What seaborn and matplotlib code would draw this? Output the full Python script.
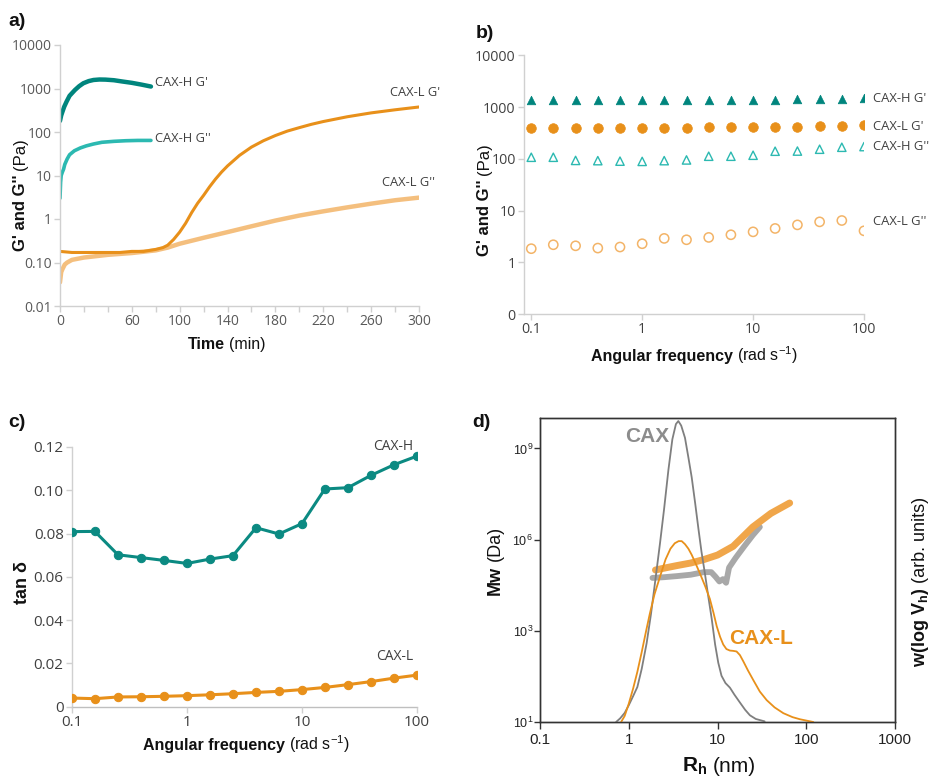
import numpy as np
import pandas as pd
import matplotlib
matplotlib.use("Agg")
import matplotlib.pyplot as plt
import seaborn as sns
from matplotlib.ticker import FixedLocator, FixedFormatter, NullLocator

# ---------------- data ----------------
# panel a: time sweep
a_hG1_t = [0, 1, 2, 3.5, 5.5, 8, 12.5, 16, 19.5, 24, 28, 33, 38, 45, 52, 60, 68, 76]
a_hG1 = [180, 240, 290, 380, 500, 680, 925, 1130, 1320, 1480, 1570, 1610, 1600, 1550, 1450, 1350, 1230, 1110]
a_hG2_t = [0, 0.5, 1, 2, 3, 4, 6, 8, 12, 17, 22, 28, 35, 45, 55, 65, 76]
a_hG2 = [3, 7, 10, 12, 14, 18, 24, 30, 37, 43, 48, 53, 58, 61, 63, 64, 64]
a_lG1_t = [0, 10, 20, 30, 40, 50, 60, 70, 80, 86, 90, 95, 100, 105, 110, 115, 120, 125, 130, 135, 140, 150,
           160, 170, 180, 190, 200, 210, 220, 240, 260, 280, 300]
a_lG1 = [0.18, 0.17, 0.17, 0.17, 0.17, 0.17, 0.18, 0.18, 0.2, 0.22, 0.25, 0.34, 0.5, 0.8, 1.4, 2.3, 3.5, 5.5,
         8.3, 12, 16.6, 29, 45, 63, 83, 105, 126, 150, 174, 224, 275, 324, 376]
a_lG2_t = [0, 1, 2, 4, 6, 10, 20, 40, 60, 80, 90, 100, 120, 140, 160, 180, 200, 220, 240, 260, 280, 300]
a_lG2 = [0.035, 0.06, 0.07, 0.09, 0.1, 0.115, 0.13, 0.15, 0.165, 0.19, 0.22, 0.27, 0.37, 0.5, 0.68, 0.92, 1.2, 1.5, 1.85, 2.25, 2.7, 3.1]
a_xticks = [0, 20, 40, 60, 80, 100, 120, 140, 160, 180, 200, 220, 240, 260, 280, 300]
a_xticklabels = ["0", "", "", "60", "", "100", "", "140", "", "180", "", "220", "", "260", "", "300"]
a_yticks = [0.01, 0.1, 1, 10, 100, 1000, 10000]
a_yticklabels = ["0.01", "0.10", "1", "10", "100", "1000", "10000"]

# panel b: frequency sweep
freq = [0.1, 0.158, 0.251, 0.398, 0.631, 1, 1.58, 2.51, 3.98, 6.31, 10, 15.8, 25.1, 39.8, 63.1, 100]
b_hG1 = [1340, 1340, 1340, 1340, 1340, 1350, 1350, 1360, 1360, 1370, 1380, 1390, 1400, 1430, 1460, 1500]
b_lG1 = [390, 390, 390, 395, 395, 400, 400, 400, 405, 405, 410, 410, 415, 425, 430, 440]
b_hG2 = [107, 107, 93, 92, 90, 89, 92, 95, 112, 112, 117, 140, 141, 153, 167, 172]
b_lG2 = [1.83, 2.18, 2.08, 1.88, 1.97, 2.28, 2.89, 2.72, 3.02, 3.40, 3.87, 4.50, 5.28, 6.04, 6.41, 4.05]
b_yticks = [0.1, 1, 10, 100, 1000, 10000]
b_yticklabels = ["0", "1", "10", "100", "1000", "10000"]
freq_ticks = [0.1, 1, 10, 100]
freq_ticklabels = ["0.1", "1", "10", "100"]

# panel c: tan delta
c_H = [0.0809, 0.0810, 0.0702, 0.0689, 0.0676, 0.0662, 0.0682, 0.0698, 0.0827, 0.0798, 0.0846, 0.1006, 0.1012, 0.1069, 0.1118, 0.1158]
c_L = [0.0040, 0.0037, 0.0045, 0.0046, 0.0048, 0.0051, 0.0055, 0.0060, 0.0066, 0.0071, 0.0079, 0.0089, 0.0102, 0.0116, 0.0132, 0.0146]
c_yticks = [0, 0.02, 0.04, 0.06, 0.08, 0.10, 0.12]
c_yticklabels = ["0", "0.02", "0.04", "0.06", "0.08", "0.10", "0.12"]

# panel d: SEC
d_cax_rh = [0.72, 0.8, 0.9, 1.0, 1.12, 1.25, 1.4, 1.59, 1.78, 2.0, 2.25, 2.5, 2.8, 3.1, 3.4, 3.62, 3.9, 4.3,
            4.7, 5.12, 5.6, 6.1, 6.6, 7.2, 7.9, 8.6, 9.4, 10.2, 11.1, 12.3, 13.8, 15.5, 17.9, 20.5, 23.2, 27, 34]
d_cax_w = [0, 0.012, 0.03, 0.055, 0.085, 0.115, 0.175, 0.259, 0.355, 0.47, 0.588, 0.7, 0.83, 0.93, 0.98, 0.99,
           0.975, 0.935, 0.87, 0.805, 0.72, 0.635, 0.56, 0.49, 0.41, 0.34, 0.255, 0.195, 0.152, 0.128, 0.113,
           0.09, 0.064, 0.04, 0.022, 0.01, 0.002]
d_caxl_rh = [0.82, 0.9, 1.0, 1.12, 1.25, 1.4, 1.57, 1.73, 1.95, 2.25, 2.6, 2.95, 3.3, 3.65, 3.95, 4.3, 4.7,
             5.12, 5.6, 6.1, 6.63, 7.3, 8.2, 9.0, 9.8, 10.7, 11.6, 12.6, 13.8, 15.0, 16.4, 17.9, 19.5, 22,
             25.3, 30, 35.8, 44, 55.2, 70, 85, 120]
d_caxl_w = [0, 0.02, 0.06, 0.11, 0.165, 0.23, 0.3, 0.357, 0.42, 0.478, 0.535, 0.57, 0.588, 0.595, 0.595, 0.585,
            0.57, 0.55, 0.525, 0.5, 0.475, 0.445, 0.405, 0.36, 0.315, 0.28, 0.255, 0.24, 0.235, 0.234, 0.232,
            0.22, 0.2, 0.17, 0.138, 0.1, 0.072, 0.048, 0.029, 0.016, 0.009, 0.0]
d_mwL_rh = [2.0, 2.5, 3.5, 5, 7, 10, 15, 25, 40, 65]
d_mwL = [1.0e5, 1.15e5, 1.4e5, 1.7e5, 2.2e5, 3.1e5, 6.0e5, 2.6e6, 7.3e6, 1.6e7]
d_mwC_rh = [1.85, 2.5, 3.5, 5, 7, 8.5, 9.5, 10.5, 11.5, 12.5, 13.5, 16, 20, 25, 30]
d_mwC = [5.5e4, 5.8e4, 6.3e4, 7e4, 8.5e4, 8.5e4, 6e4, 4.2e4, 5e4, 3.8e4, 1.2e5, 2.5e5, 6e5, 1.4e6, 2.6e6]
d_xticks = [0.1, 1, 10, 100, 1000]
d_xticklabels = ["0.1", "1", "10", "100", "1000"]
d_yticks = [1, 1e3, 1e6, 1e9]
d_yticklabels = ["10$^1$", "10$^3$", "10$^6$", "10$^9$"]

# ---------------- style ----------------
sns.set_theme(style="ticks")
plt.rcParams['font.family'] = ['Open Sans', 'DejaVu Sans']
plt.rcParams['mathtext.fontset'] = 'custom'
plt.rcParams['mathtext.rm'] = 'Liberation Sans'
plt.rcParams['mathtext.bf'] = 'Liberation Sans:bold'
plt.rcParams['mathtext.it'] = 'Liberation Sans:italic'

W, H = 933, 780
fig = plt.figure(figsize=(W / 100, H / 100), dpi=100)

TEAL = "#00857d"
TEAL_L = "#2cb9b1"
ORANGE = "#e8901a"
ORANGE_L = "#f3b468"
GRAY_T = "#595959"


def box(l, r, t, b):
    return [l / W, 1 - b / H, (r - l) / W, (b - t) / H]


def excel_style(ax, spine_col="#d0d0d0", lab_col=GRAY_T, lsize=9.5):
    for s in ["top", "right"]:
        ax.spines[s].set_visible(False)
    for s in ["left", "bottom"]:
        ax.spines[s].set_color(spine_col)
        ax.spines[s].set_linewidth(1.0)
    ax.tick_params(which="major", direction="out", length=4, width=1, color=spine_col,
                   labelcolor=lab_col, labelsize=lsize, pad=2)
    ax.tick_params(which="minor", length=0)


def ftext(x, y, s, **kw):
    return fig.text(x / W, 1 - y / H, s, **kw)


def mixed(cx, cy, parts, size, rot=False, family="Liberation Sans", color="#111111"):
    r = fig.canvas.get_renderer()
    gap = 0.27 * size * 100 / 72
    objs, widths = [], []
    for s, w in parts:
        t = fig.text(0, 0, s, fontsize=size, fontweight=w, family=family, color=color,
                     rotation_mode="anchor", ha="left", va="baseline")
        widths.append(t.get_window_extent(r).width)
        objs.append(t)
    total = sum(widths) + gap * (len(parts) - 1)
    pos = -total / 2
    for t, wd in zip(objs, widths):
        if not rot:
            t.set_position(((cx + pos) / W, 1 - cy / H))
        else:
            t.set_rotation(90)
            t.set_position((cx / W, 1 - (cy - pos) / H))
        pos += wd + gap


# ---------------- panel a ----------------
axA = fig.add_axes(box(60, 419, 45, 306))
axA.set_yscale("log")
sns.lineplot(x=a_lG2_t, y=a_lG2, ax=axA, color=ORANGE_L, lw=3.2, alpha=0.85)
sns.lineplot(x=a_lG1_t, y=a_lG1, ax=axA, color=ORANGE, lw=2.2)
sns.lineplot(x=a_hG2_t, y=a_hG2, ax=axA, color=TEAL_L, lw=2.6)
sns.lineplot(x=a_hG1_t, y=a_hG1, ax=axA, color=TEAL, lw=3.2)
axA.set_xlim(0, 300)
axA.set_ylim(0.01, 10000)
axA.xaxis.set_major_locator(FixedLocator(a_xticks))
axA.xaxis.set_major_formatter(FixedFormatter(a_xticklabels))
axA.yaxis.set_major_locator(FixedLocator(a_yticks))
axA.yaxis.set_major_formatter(FixedFormatter(a_yticklabels))
axA.yaxis.set_minor_locator(NullLocator())
excel_style(axA, lsize=10)
for lab in axA.get_xticklabels() + axA.get_yticklabels():
    lab.set_fontfamily("Open Sans")
ftext(155, 83, "CAX-H G'", fontsize=9.3, color="#404040", va="center", ha="left")
ftext(155, 138, "CAX-H G''", fontsize=9.3, color="#404040", va="center", ha="left")
ftext(440, 93, "CAX-L G'", fontsize=9.3, color="#404040", va="center", ha="right")
ftext(435, 182, "CAX-L G''", fontsize=9.3, color="#404040", va="center", ha="right")

# ---------------- panel b ----------------
axB = fig.add_axes(box(524, 864, 55.3, 314))
axB.set_xscale("log")
axB.set_yscale("log")
sns.scatterplot(x=freq, y=b_hG1, ax=axB, marker="^", s=38, color=TEAL, edgecolor=TEAL, linewidth=0.5)
sns.scatterplot(x=freq, y=b_lG1, ax=axB, marker="o", s=48, color=ORANGE, edgecolor=ORANGE, linewidth=0.5)
sns.scatterplot(x=freq, y=b_hG2, ax=axB, marker="^", s=36, facecolor="none", edgecolor=TEAL_L, linewidth=1.0)
sns.scatterplot(x=freq, y=b_lG2, ax=axB, marker="o", s=44, facecolor="none", edgecolor=ORANGE_L, linewidth=1.1)
axB.set_xlim(0.086, 100)
axB.set_ylim(0.1, 10000)
axB.xaxis.set_major_locator(FixedLocator(freq_ticks))
axB.xaxis.set_major_formatter(FixedFormatter(freq_ticklabels))
axB.xaxis.set_minor_locator(NullLocator())
axB.yaxis.set_major_locator(FixedLocator(b_yticks))
axB.yaxis.set_major_formatter(FixedFormatter(b_yticklabels))
axB.yaxis.set_minor_locator(NullLocator())
excel_style(axB, lab_col="#404040", lsize=10.2)
for lab in axB.get_xticklabels() + axB.get_yticklabels():
    lab.set_fontfamily("Open Sans")
ftext(873, 98.7, "CAX-H G'", fontsize=9.4, color="#404040", va="center", ha="left")
ftext(873, 126, "CAX-L G'", fontsize=9.4, color="#404040", va="center", ha="left")
ftext(873, 146, "CAX-H G''", fontsize=9.4, color="#404040", va="center", ha="left")
ftext(873, 221.7, "CAX-L G''", fontsize=9.4, color="#404040", va="center", ha="left")

# ---------------- panel c ----------------
axC = fig.add_axes(box(72, 417, 447, 706.7))
axC.set_xscale("log")
sns.lineplot(x=freq, y=c_H, ax=axC, color="#0b8a82", lw=2.2, marker="o", markersize=6,
             markeredgecolor="#0b8a82")
sns.lineplot(x=freq, y=c_L, ax=axC, color=ORANGE, lw=2.2, marker="o", markersize=6,
             markeredgecolor=ORANGE)
axC.set_xlim(0.1, 100)
axC.set_ylim(0, 0.12)
axC.xaxis.set_major_locator(FixedLocator(freq_ticks))
axC.xaxis.set_major_formatter(FixedFormatter(freq_ticklabels))
axC.xaxis.set_minor_locator(NullLocator())
axC.yaxis.set_major_locator(FixedLocator(c_yticks))
axC.yaxis.set_major_formatter(FixedFormatter(c_yticklabels))
excel_style(axC, lab_col="#404040", lsize=11)
axC.spines["bottom"].set_color("#bfbfbf")
for lab in axC.get_xticklabels() + axC.get_yticklabels():
    lab.set_fontfamily("Open Sans")
for sp in ["left", "bottom"]:
    axC.spines[sp].set_zorder(0)
ftext(413, 447, "CAX-H", fontsize=10, color="#404040", va="center", ha="right")
ftext(413, 657, "CAX-L", fontsize=10, color="#404040", va="center", ha="right")

# ---------------- panel d ----------------
axD = fig.add_axes(box(540, 895, 418, 722))
axD.set_xscale("log")
axD.set_yscale("log")
sns.lineplot(x=d_mwC_rh, y=d_mwC, ax=axD, color="#a8a8a8", lw=4.2)
sns.lineplot(x=d_mwL_rh, y=d_mwL, ax=axD, color="#f0a64a", lw=5.0)
axD.set_xlim(0.1, 1000)
axD.set_ylim(1, 1e10)
axD.xaxis.set_major_locator(FixedLocator(d_xticks))
axD.xaxis.set_major_formatter(FixedFormatter(d_xticklabels))
axD.xaxis.set_minor_locator(NullLocator())
axD.yaxis.set_major_locator(FixedLocator(d_yticks))
axD.yaxis.set_major_formatter(FixedFormatter(d_yticklabels))
axD.yaxis.set_minor_locator(NullLocator())
for s in axD.spines.values():
    s.set_color("#333333")
    s.set_linewidth(1.0)
axD.tick_params(axis="x", which="major", direction="out", length=5, width=1, color="#333333",
                labelsize=11, labelcolor="#222222", pad=3)
axD.tick_params(axis="y", which="major", direction="out", length=4, width=1, color="#333333",
                labelsize=9, labelcolor="#222222", pad=1)
for lab in axD.get_xticklabels() + axD.get_yticklabels():
    lab.set_fontfamily("Liberation Sans")

axD2 = axD.twinx()
sns.lineplot(x=d_cax_rh, y=d_cax_w, ax=axD2, color="#7f7f7f", lw=1.3)
sns.lineplot(x=d_caxl_rh, y=d_caxl_w, ax=axD2, color=ORANGE, lw=1.3)
axD2.set_ylim(0, 1.0)
axD2.set_yticks([])
axD2.tick_params(right=False, labelright=False)
for s in axD2.spines.values():
    s.set_color("#333333")
    s.set_linewidth(1.0)

ftext(647, 437, "CAX", fontsize=15, fontweight="bold", color="#8c8c8c", family="Liberation Sans",
      ha="center", va="center")
ftext(761, 638, "CAX-L", fontsize=15, fontweight="bold", color=ORANGE, family="Liberation Sans",
      ha="center", va="center")

# ---------------- axis labels ----------------
mixed(226.7, 349.5, [("Time", "bold"), ("(min)", "normal")], 11.5)
mixed(25, 195, [("G' and G''", "bold"), ("(Pa)", "normal")], 12, rot=True)
mixed(694, 361, [("Angular frequency", "bold"), ("(rad s$^{-1}$)", "normal")], 11.5)
mixed(489, 200, [("G' and G''", "bold"), ("(Pa)", "normal")], 12, rot=True)
mixed(246, 750, [("Angular frequency", "bold"), ("(rad s$^{-1}$)", "normal")], 11.5)
mixed(27, 583, [("tan δ", "bold")], 13, rot=True)
mixed(719, 772, [("$\\mathbf{R_h}$", "bold"), ("(nm)", "normal")], 15)
mixed(500, 560, [("Mw", "bold"), ("(Da)", "normal")], 13, rot=True)
mixed(925, 582, [("w(log V$_{\\mathbf{h}}$)", "bold"), ("(arb. units)", "normal")], 13, rot=True)

# ---------------- panel letters ----------------
for (x, y, s) in [(8, 22, "a)"), (476, 33, "b)"), (8, 423, "c)"), (472, 423, "d)")]:
    ftext(x, y, s, fontsize=14, fontweight="bold", family="Liberation Sans", color="#111111",
          ha="left", va="center")

fig.savefig("out.png", dpi=100)
